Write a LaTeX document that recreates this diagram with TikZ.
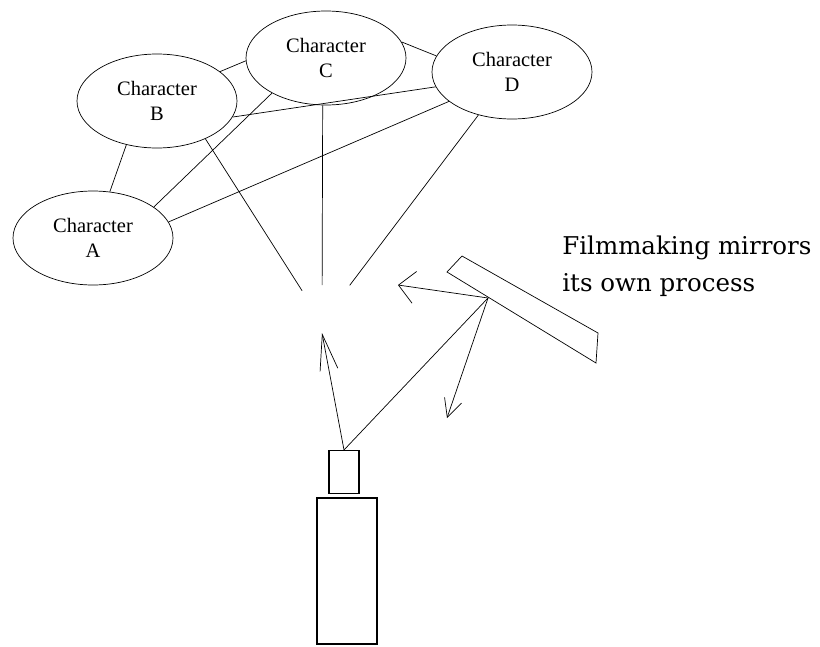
\documentclass[tikz,border=0pt]{standalone}
\usepackage{fontspec}
\setmainfont{Liberation Serif}
\newfontfamily\captionfont{DejaVu Serif}
\usepackage{tikz}
\usetikzlibrary{arrows.meta,shapes.geometric,calc}

\begin{document}
\begin{tikzpicture}[x=1pt, y=-1pt, line width=0.7pt,
  charnode/.style={draw, ellipse, minimum width=160pt, minimum height=94pt, inner sep=0pt, align=center, font=\fontsize{20.5}{25}\selectfont},
  camerabox/.style={draw, rectangle, line width=1.1pt, inner sep=0pt},
  sight/.style={shorten >=#1},
  bounce/.style={-{Straight Barb[length=#1]}}]
  \useasboundingbox (0,0) rectangle (820,646);
  % characters
  \node[charnode] (ca) at (93,238) {Character\\A};
  \node[charnode] (cb) at (157,101) {Character\\B};
  \node[charnode] (cc) at (326,58) {Character\\C};
  \node[charnode] (cd) at (512,72) {Character\\D};
  % camera
  \node[camerabox, minimum width=30pt, minimum height=43pt] (lens) at (344,472) {};
  \node[camerabox, minimum width=60pt, minimum height=146pt] (body) at (347,571) {};
  % mirror
  \draw (447,272) -- (462,256) -- (598,333) -- (596,363) -- cycle;
  \coordinate (hit) at (488,298);
  \coordinate (focus) at (322,322);
  \coordinate (view) at (322,333);
  \coordinate (back) at (398,285);
  \coordinate (down) at (447,418);
  % links between characters
  \draw (cb.25) -- (cc.182);
  \draw (cc.12) -- (cd.168);
  \draw (cb.235) -- (ca.70);
  \draw (ca.27) -- (cc.213);
  \draw (ca.12) -- (cd.205);
  \draw (cb.348) -- (cd.191);
  % sight lines
  \draw[sight=37pt] (cb.322) -- (focus);
  \draw[sight=37pt] (cc.266) -- (focus);
  \draw[sight=46pt] (cd.232) -- (focus);
  % light paths
  \draw[bounce={36pt,width=18pt}] (lens.north) -- (view);
  \draw (lens.north) -- (hit);
  \draw[bounce={16pt,width=32pt}] (hit) -- (back);
  \draw[bounce={18pt,width=18pt}] (hit) -- (down);
  % caption
  \node[anchor=north west, inner sep=0pt, align=left, font=\captionfont\fontsize{24.5}{37}\selectfont] (caption) at (562,236) {Filmmaking mirrors\\its own process};
\end{tikzpicture}
\end{document}
